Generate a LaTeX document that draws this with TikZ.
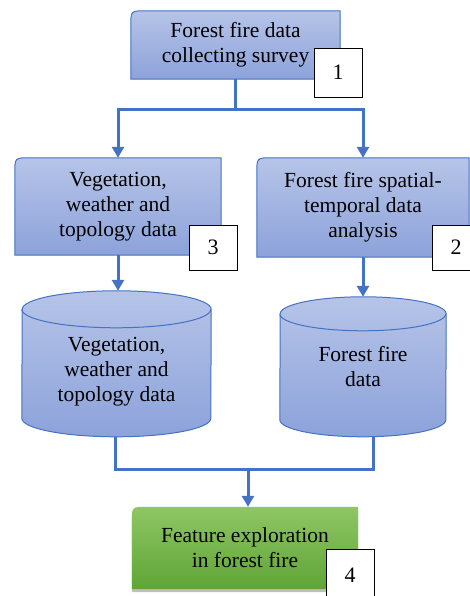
\documentclass[tikz,border=0pt]{standalone}
\usepackage{fontspec}
\setmainfont{Liberation Serif}
\newfontfamily\diagfont{Liberation Serif}
\usetikzlibrary{arrows.meta,backgrounds}

\definecolor{lineblue}{HTML}{4472C4}
\definecolor{boxtop}{HTML}{B6C4E8}
\definecolor{boxbot}{HTML}{8CA2DA}
\definecolor{greentop}{HTML}{8FC665}
\definecolor{greenbot}{HTML}{5FA536}

\tikzset{
  stepbox/.style={rectangle, inner sep=0pt, align=center, font=\diagfont\fontsize{21.5}{25}\selectfont},
  tag/.style={draw=black, line width=0.8pt, fill=white, minimum width=48pt, minimum height=48pt,
    inner sep=0pt, font=\diagfont\fontsize{22}{25}\selectfont},
  shell/.style={draw=lineblue, line width=1pt, top color=boxtop, bottom color=boxbot},
  link/.style={draw=lineblue, line width=3pt},
  arrow/.style={link, -{Triangle[width=12pt,length=11pt]}}
}

\begin{document}
\begin{tikzpicture}[x=1pt,y=1pt]
  \useasboundingbox (0,0) rectangle (470,596);

  % boxes and stores (store nodes start at the centre of the top end)
  \node[stepbox, minimum width=209pt, minimum height=68pt] (survey) at (235.5,551) {Forest fire data\\collecting survey};
  \node[stepbox, minimum width=206pt, minimum height=97pt] (veg) at (118,389.5) {Vegetation,\\weather and\\topology data};
  \node[stepbox, minimum width=212pt, minimum height=99pt] (spat) at (363,388.5) {Forest fire spatial-\\temporal data\\analysis};
  \node[stepbox, minimum width=189pt, minimum height=125pt] (vegdb) at (116.5,224) {Vegetation,\\weather and\\topology data};
  \node[stepbox, minimum width=166pt, minimum height=106pt] (firedb) at (363,229) {Forest fire\\data};
  \node[stepbox, minimum width=226pt, minimum height=82pt] (feat) at (245,48) {Feature exploration\\in forest fire};

  \begin{scope}[on background layer]
    \foreach \n in {survey,veg,spat}
      \path[shell]
        (\n.south west) -- ([yshift=-15pt]\n.north west) .. controls (\n.north west) .. ([xshift=15pt]\n.north west)
        -- (\n.north east) -- (\n.south east) -- cycle;
    \path[top color=greentop, bottom color=greenbot, preaction={fill=black!25, transform canvas={yshift=-3pt}}]
      (feat.south west) -- ([yshift=-15pt]feat.north west) .. controls (feat.north west) .. ([xshift=15pt]feat.north west)
      -- (feat.north east) -- (feat.south east) -- cycle;
    \foreach \n/\rx/\ry/\h in {vegdb/94.5/18.5/109, firedb/83/17/106} {
      \path[shell] ([yshift=-\h pt]\n.north west) arc[start angle=180, end angle=360, x radius=\rx, y radius=\ry]
        -- (\n.north east) arc[start angle=0, end angle=180, x radius=\rx, y radius=\ry] -- cycle;
      \draw[lineblue, line width=1pt] (\n.north west) arc[start angle=180, end angle=360, x radius=\rx, y radius=\ry];
    }
  \end{scope}

  % number tags
  \node[tag, minimum height=49pt] (n1) at (338,523.5) {1};
  \node[tag, minimum height=45pt] (n2) at (456,348.5) {2};
  \node[tag, minimum height=45pt] (n3) at (213,348.5) {3};
  \node[tag, minimum height=52pt] (n4) at (350,21) {4};

  % connectors
  \coordinate (split) at (235.5,486);
  \coordinate (merge) at (248,126);
  \coordinate (vegtop) at ([yshift=18.5pt]vegdb.north);
  \coordinate (firetop) at ([yshift=17pt]firedb.north);
  \coordinate (vegfoot) at ([xshift=-1.5pt,yshift=-127.5pt]vegdb.north);
  \coordinate (firefoot) at ([xshift=10pt,yshift=-123pt]firedb.north);
  \draw[link] (survey.south) -- (split);
  \draw[arrow] (split) -| (veg.north);
  \draw[arrow] (split) -| (spat.north);
  \draw[arrow] (veg.south) -- (veg.south |- vegtop);
  \draw[arrow] (spat.south) -- (spat.south |- firetop);
  \draw[link] (vegfoot) |- (merge) -| (firefoot);
  \draw[arrow] (merge) -- (merge |- feat.north);
\end{tikzpicture}
\end{document}
